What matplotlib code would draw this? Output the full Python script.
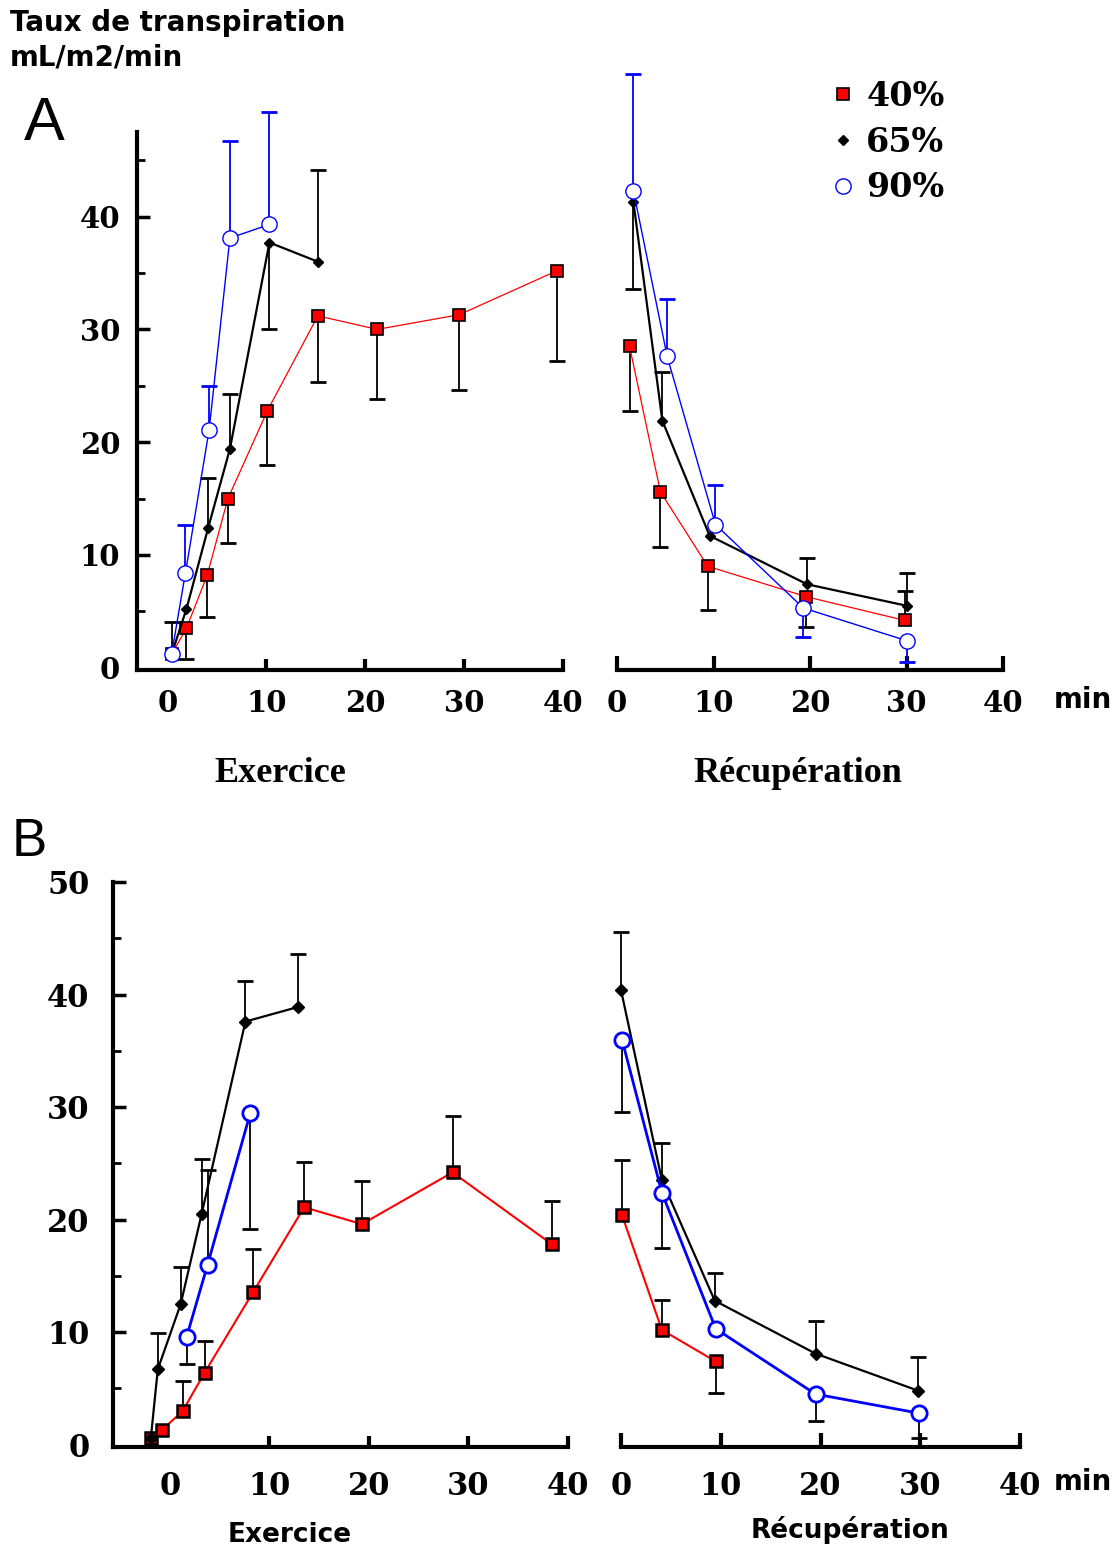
import numpy as np
import matplotlib
matplotlib.use("Agg")
import matplotlib.pyplot as plt
from matplotlib.lines import Line2D

# *********************************************************************************************
# data (x in min, y in mL/m2/min, cap = end of the error bar)
# *********************************************************************************************

# panel A - exercice
a_ex_x40 = [0.4, 1.9, 4.0, 6.1, 10.1, 15.2, 21.2, 29.5, 39.4]
a_ex_y40 = [1.2, 3.5, 8.2, 15.0, 22.8, 31.2, 30.0, 31.3, 35.2]
a_ex_c40 = [None, 0.8, 4.5, 11.1, 18.0, 25.3, 23.8, 24.6, 27.2]

a_ex_x65 = [0.4, 1.9, 4.1, 6.3, 10.3, 15.2]
a_ex_y65 = [1.2, 5.2, 12.4, 19.4, 37.7, 36.0]
a_ex_c65 = [4.1, None, 16.8, 24.3, 30.0, 44.1]

a_ex_x90 = [0.4, 1.8, 4.2, 6.3, 10.3]
a_ex_y90 = [1.2, 8.4, 21.1, 38.1, 39.3]
a_ex_c90 = [None, 12.7, 25.0, 46.7, 49.3]

# panel A - recuperation
a_re_x40 = [1.3, 4.5, 9.4, 19.6, 29.8]
a_re_y40 = [28.5, 15.6, 9.0, 6.3, 4.2]
a_re_c40 = [22.8, 10.7, 5.1, 3.6, 6.8]

a_re_x65 = [1.7, 4.7, 9.6, 19.7, 30.0]
a_re_y65 = [41.3, 21.9, 11.7, 7.4, 5.5]
a_re_c65 = [33.6, 26.2, None, 9.7, 8.4]

a_re_x90 = [1.7, 5.2, 10.2, 19.3, 30.0]
a_re_y90 = [42.3, 27.6, 12.7, 5.3, 2.4]
a_re_c90 = [52.6, 32.7, 16.2, 2.7, 0.5]

# panel B - exercice
b_ex_x40 = [-1.9, -0.8, 1.3, 3.5, 8.4, 13.5, 19.3, 28.4, 38.4]
b_ex_y40 = [0.6, 1.3, 3.0, 6.4, 13.6, 21.1, 19.6, 24.2, 17.8]
b_ex_c40 = [None, None, 5.7, 9.2, 17.4, 25.1, 23.4, 29.2, 21.7]

b_ex_x65 = [-1.9, -1.2, 1.1, 3.2, 7.6, 12.9]
b_ex_y65 = [0.6, 6.7, 12.5, 20.5, 37.6, 38.9]
b_ex_c65 = [None, 9.9, 15.8, 25.4, 41.2, 43.6]

b_ex_x90 = [1.7, 3.8, 8.1]
b_ex_y90 = [9.6, 16.0, 29.5]
b_ex_c90 = [7.2, 24.4, 19.2]

# panel B - recuperation
b_re_x40 = [0.1, 4.1, 9.5]
b_re_y40 = [20.4, 10.2, 7.4]
b_re_c40 = [25.3, 12.9, 4.6]

b_re_x65 = [0.0, 4.1, 9.4, 19.5, 29.8]
b_re_y65 = [40.4, 23.5, 12.8, 8.1, 4.8]
b_re_c65 = [45.6, 26.8, 15.3, 11.0, 7.8]

b_re_x90 = [0.1, 4.1, 9.5, 19.5, 29.9]
b_re_y90 = [36.0, 22.4, 10.3, 4.5, 2.8]
b_re_c90 = [29.6, 17.5, None, 2.1, 0.6]

legend_labels = ["40%", "65%", "90%"]
x_ticks = [0, 10, 20, 30, 40]

# *********************************************************************************************
# styles
# *********************************************************************************************

W, H = 1119, 1551
TICK_A = dict(family="DejaVu Serif", fontweight="bold", fontsize=21)
TICK_B = dict(family="DejaVu Serif", fontweight="bold", fontsize=22)

sty_a = {
    "40": dict(color="red", marker="s", mfc="red", mec="black", ms=8.5, mew=1.2, lw=0.9),
    "65": dict(color="black", marker="D", mfc="black", mec="black", ms=5.5, lw=1.6),
    "90": dict(color="blue", marker="o", mfc="white", mec="blue", ms=11, mew=1.0, lw=1.0),
}
sty_b = {
    "40": dict(color="red", marker="s", mfc="red", mec="black", ms=9, mew=1.8, lw=1.5),
    "65": dict(color="black", marker="D", mfc="black", mec="black", ms=6, lw=1.6),
    "90": dict(color="blue", marker="o", mfc="white", mec="blue", ms=11, mew=2.0, lw=2.0),
}


def frac_box(left, right, top, bottom):
    return [left / W, 1 - bottom / H, (right - left) / W, (bottom - top) / H]


def fig_xy(x, y):
    return x / W, 1 - y / H


def draw_series(ax, x, y, cap, style, ecolor):
    # one-sided error bars, as in the original figure
    for xi, yi, ci in zip(x, y, cap):
        if ci is None:
            continue
        ax.vlines(xi, yi, ci, colors=ecolor, lw=1.3, clip_on=False, zorder=2)
        ax.plot([xi], [ci], marker="_", ms=11, mew=2.0, color=ecolor,
                clip_on=False, zorder=2)
    ax.plot(x, y, clip_on=False, zorder=3, **style)


def setup_left(ax, xlim, ylim, yticks, yminor, xpad, ypad, font):
    ax.set_xlim(*xlim)
    ax.set_ylim(*ylim)
    for s in ["top", "right"]:
        ax.spines[s].set_visible(False)
    ax.spines["left"].set_linewidth(3)
    ax.spines["bottom"].set_linewidth(3)
    ax.set_yticks(yticks, [str(v) for v in yticks], **font)
    ax.set_yticks(yminor, minor=True)
    ax.set_xticks(x_ticks, [str(v) for v in x_ticks], **font)
    ax.tick_params(axis="y", which="major", direction="in", length=9, width=2.5, pad=ypad)
    ax.tick_params(axis="y", which="minor", direction="in", length=6, width=2)
    ax.tick_params(axis="x", direction="in", length=8, width=3, pad=xpad)
    ax.xaxis.get_major_ticks()[0].tick1line.set_visible(False)
    ax.yaxis.get_major_ticks()[0].tick1line.set_visible(False)
    ax.patch.set_alpha(0)


def setup_right(ax, ylim, xpad, font):
    ax.set_xlim(0, 40)
    ax.set_ylim(*ylim)
    for s in ["top", "right", "left"]:
        ax.spines[s].set_visible(False)
    ax.spines["bottom"].set_linewidth(3)
    ax.set_yticks([])
    ax.set_xticks(x_ticks, [str(v) for v in x_ticks], **font)
    ax.tick_params(axis="x", direction="in", length=10, width=3, pad=xpad)
    ax.patch.set_alpha(0)


fig = plt.figure(figsize=(W / 100, H / 100), dpi=100)

# *********************************************************************************************
# panel A
# *********************************************************************************************

ax_a1 = fig.add_axes(frac_box(137, 563, 132, 670))
setup_left(ax_a1, (-3.1, 40), (-0.2, 47.5), [0, 10, 20, 30, 40], [5, 15, 25, 35, 45],
           xpad=14, ypad=12, font=TICK_A)
draw_series(ax_a1, a_ex_x40, a_ex_y40, a_ex_c40, sty_a["40"], "black")
draw_series(ax_a1, a_ex_x65, a_ex_y65, a_ex_c65, sty_a["65"], "black")
draw_series(ax_a1, a_ex_x90, a_ex_y90, a_ex_c90, sty_a["90"], "blue")

ax_a2 = fig.add_axes(frac_box(617, 1003, 132, 670))
setup_right(ax_a2, (-0.2, 47.5), xpad=14, font=TICK_A)
draw_series(ax_a2, a_re_x40, a_re_y40, a_re_c40, sty_a["40"], "black")
draw_series(ax_a2, a_re_x65, a_re_y65, a_re_c65, sty_a["65"], "black")
draw_series(ax_a2, a_re_x90, a_re_y90, a_re_c90, sty_a["90"], "blue")

handles = [Line2D([], [], ls="none", **{k: v for k, v in sty_a[k2].items() if k != "lw"})
           for k2 in ["40", "65", "90"]]
fig.legend(handles, legend_labels, loc="upper left", bbox_to_anchor=fig_xy(828, 80),
           frameon=False, handlelength=0.9, handletextpad=0.25, labelspacing=0.38,
           borderpad=0, borderaxespad=0,
           prop=dict(family="DejaVu Serif", weight="bold", size=24))

# *********************************************************************************************
# panel B
# *********************************************************************************************

ax_b1 = fig.add_axes(frac_box(113, 568, 882, 1447))
setup_left(ax_b1, (-5.7, 40), (-0.2, 50), [0, 10, 20, 30, 40, 50], [5, 15, 25, 35, 45],
           xpad=17, ypad=17, font=TICK_B)
draw_series(ax_b1, b_ex_x40, b_ex_y40, b_ex_c40, sty_b["40"], "black")
draw_series(ax_b1, b_ex_x65, b_ex_y65, b_ex_c65, sty_b["65"], "black")
draw_series(ax_b1, b_ex_x90, b_ex_y90, b_ex_c90, sty_b["90"], "black")

ax_b2 = fig.add_axes(frac_box(621, 1020, 882, 1447))
setup_right(ax_b2, (-0.2, 50), xpad=17, font=TICK_B)
draw_series(ax_b2, b_re_x40, b_re_y40, b_re_c40, sty_b["40"], "black")
draw_series(ax_b2, b_re_x65, b_re_y65, b_re_c65, sty_b["65"], "black")
draw_series(ax_b2, b_re_x90, b_re_y90, b_re_c90, sty_b["90"], "black")

# *********************************************************************************************
# texts
# *********************************************************************************************

sans_b = dict(family="DejaVu Sans", fontweight="bold")
serif_b = dict(family="Liberation Serif", fontweight="bold")

fig.text(*fig_xy(10, 23), "Taux de transpiration", fontsize=20, va="center", **sans_b)
fig.text(*fig_xy(10, 57), "mL/m2/min", fontsize=20, va="center", **sans_b)
fig.text(*fig_xy(24, 124), "A", fontsize=44, va="center", family="Liberation Sans")
fig.text(*fig_xy(12, 842), "B", fontsize=38, va="center", family="Liberation Sans")

fig.text(*fig_xy(280, 773), "Exercice", fontsize=26, ha="center", va="center", **serif_b)
fig.text(*fig_xy(798, 773), "Récupération", fontsize=26, ha="center", va="center", **serif_b)
fig.text(*fig_xy(290, 1535), "Exercice", fontsize=19, ha="center", va="center", **sans_b)
fig.text(*fig_xy(850, 1530), "Récupération", fontsize=19, ha="center", va="center", **sans_b)

fig.text(*fig_xy(1083, 700), "min", fontsize=20, ha="center", va="center", **sans_b)
fig.text(*fig_xy(1083, 1482), "min", fontsize=20, ha="center", va="center", **sans_b)

fig.savefig("out.png", dpi=100)
